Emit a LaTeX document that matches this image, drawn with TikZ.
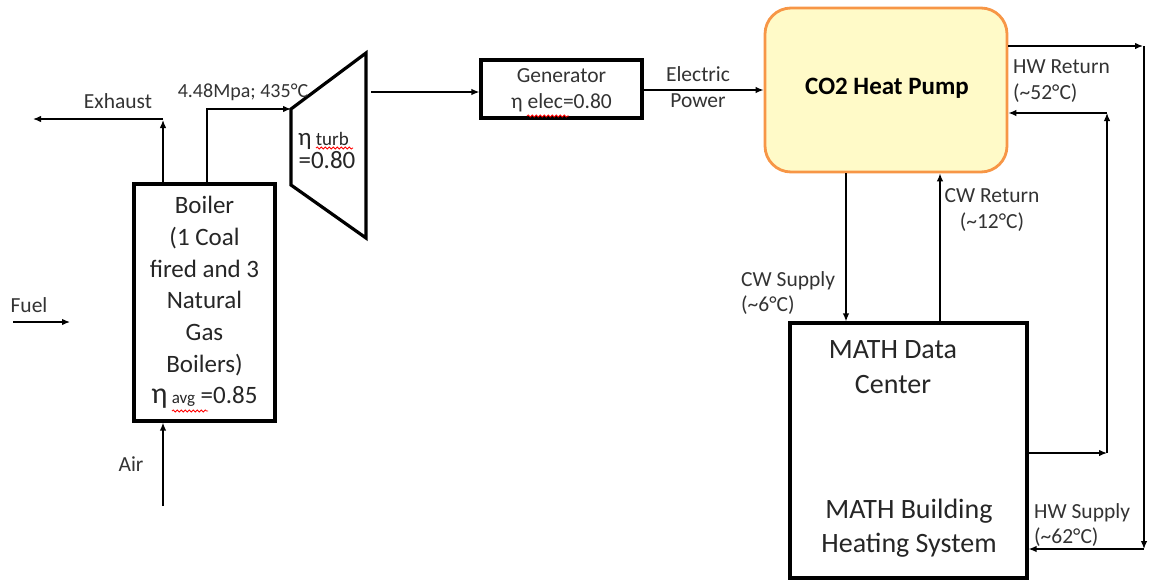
\documentclass[tikz,border=0pt]{standalone}
\usepackage{fontspec}
\setmainfont{Carlito}
\usetikzlibrary{arrows.meta,decorations.pathmorphing}
\definecolor{hpfill}{RGB}{255,250,200}
\definecolor{hpborder}{RGB}{247,150,70}
\begin{document}
\begin{tikzpicture}[x=1pt,y=-1pt,
  arr/.style={-{Latex[length=8pt,width=6.5pt]}, line width=1.3pt},
  thickbox/.style={draw, line width=3.2pt, inner sep=0pt},
  lab/.style={font=\fontsize{21.5}{25.5}\selectfont, inner sep=0pt, text=black!80},
  bigtxt/.style={font=\fontsize{25}{31.7}\selectfont, align=center, text=black!85},
  boxtxt/.style={font=\fontsize{28}{34.5}\selectfont, align=center, inner sep=0pt, text=black!85},
  squig/.style={red, line width=0.8pt, decorate, decoration={snake, amplitude=1.1pt, segment length=4pt}}
]
\useasboundingbox (0,0) rectangle (1150,581);

% Boiler
\node[thickbox, minimum width=141pt, minimum height=237pt, bigtxt] (boiler) at (204.5,302.5)
  {Boiler\\(1 Coal\\fired and 3\\Natural\\Gas\\Boilers)\\{\fontsize{30}{30}\selectfont η}\,{\fontsize{17}{17}\selectfont avg} =0.85};
\draw[squig] (172,411) -- (208,411);

% Turbine
\coordinate (tTL) at (291,109);
\coordinate (tTR) at (366,53);
\coordinate (tBR) at (366,238);
\coordinate (tBL) at (291,185);
\draw[line width=3.2pt, line join=miter] (tTL) -- (tTR) -- (tBR) -- (tBL) -- cycle;
\node[font=\fontsize{25}{31}\selectfont, inner sep=0pt, anchor=base west, text=black!85] (eta) at (298,145)
  {η\,{\fontsize{19}{19}\selectfont turb}};
\node[font=\fontsize{25}{31}\selectfont, inner sep=0pt, text=black!85] (eff) at (327,160) {=0.80};
\draw[squig] (316,148) -- (353,148);

% Generator
\node[thickbox, minimum width=161pt, minimum height=58pt] (gen) at (561.5,89) {};
\node[lab, align=center, font=\fontsize{21.5}{26}\selectfont] (gentxt) at (561.5,90) {Generator\\η elec=0.80};
\draw[squig] (527,116) -- (569,116);

% Heat pump
\node[draw=hpborder, fill=hpfill, line width=2.8pt, rounded corners=26pt,
  minimum width=242pt, minimum height=164pt] (hp) at (886,90) {};
\node[font=\bfseries\fontsize{25}{30}\selectfont, inner sep=0pt] (hptxt) at (887,88) {CO2 Heat Pump};

% Building
\node[thickbox, minimum width=237pt, minimum height=255pt] (bld) at (908.5,450.5) {};
\node[boxtxt] (dc) at (893,367) {MATH Data\\Center};
\node[boxtxt] (hs) at (909,528) {MATH Building\\Heating System};

% Coordinates for connectors
\coordinate (exh) at (163,119);
\coordinate (exhend) at (33,119);
\coordinate (st) at (207,109);
\coordinate (fuelA) at (13,322);
\coordinate (fuelB) at (70,322);
\coordinate (airA) at (163,506);
\coordinate (tout) at (371,92);
\coordinate (hwA) at (1144,46);
\coordinate (hwB) at (1144,549);
\coordinate (hrA) at (1107,453);
\coordinate (hrB) at (1107,113);
\coordinate (cws) at (846,0);
\coordinate (cwr) at (940,0);

% Connectors
\draw[arr] (exh |- boiler.north) -- ([yshift=-1pt]exh);
\draw[arr] (exh) -- (exhend);
\draw[arr] (st |- boiler.north) -- (st) -- (tTL);
\draw[arr] (fuelA) -- (fuelB);
\draw[arr] (airA) -- (airA |- boiler.south);
\draw[arr] (tout) -- (tout -| gen.west);
\draw[arr] (gen.east |- hp.west) -- (hp.west);
\draw[arr] (hp.east |- hwA) -- ([xshift=-1pt]hwA);
\draw[arr] (hwA) -- (hwB);
\draw[arr] (hwB) -- (hwB -| bld.east);
\draw[arr] (hrA -| bld.east) -- (hrA);
\draw[arr] (hrA) -- (hrB);
\draw[arr] (hrB) -- (hrB -| hp.east);
\draw[arr] (cws |- hp.south) -- (cws |- bld.north);
\draw[arr] (cwr |- bld.north) -- (cwr |- hp.south);

% Labels
\node[lab] (lexh) at (118,101) {Exhaust};
\node[lab, font=\fontsize{20}{24}\selectfont] (lsteam) at (243,92) {4.48Mpa; 435°C};
\node[lab] (lfuel) at (29,305) {Fuel};
\node[lab] (lair) at (131,464) {Air};
\node[lab, align=center] (lpow) at (698,87) {Electric\\Power};
\node[lab, align=left, anchor=north west] (lhwr) at (1013,60) {HW Return\\(\textasciitilde52°C)};
\node[lab, align=center] (lcwr) at (992,210) {CW Return\\(\textasciitilde12°C)};
\node[lab, align=left, anchor=north west] (lcws) at (741,271) {CW Supply\\(\textasciitilde6°C)};
\node[lab, align=left, anchor=north west] (lhws) at (1034,503) {HW Supply\\(\textasciitilde62°C)};
\end{tikzpicture}
\end{document}
